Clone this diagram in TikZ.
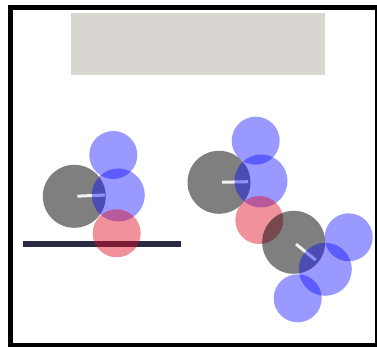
\documentclass[tikz,border=0pt]{standalone}
\usetikzlibrary{positioning}

\definecolor{panelgray}{RGB}{217,214,209}
\definecolor{groundnavy}{RGB}{42,42,68}
\definecolor{contactred}{RGB}{222,12,34}

\begin{document}
\begin{tikzpicture}[
  x=1pt, y=-1pt,
  body/.style={circle, fill=black, fill opacity=0.5, minimum size=63pt, inner sep=0pt},
  wheel/.style={circle, fill=blue, fill opacity=0.4, minimum size=48pt, inner sep=0pt},
  bigwheel/.style={wheel, minimum size=53pt},
  contact/.style={circle, fill=contactred, fill opacity=0.45, minimum size=48pt, inner sep=0pt},
  heading/.style={white, line width=3pt, opacity=0.9, shorten <=3pt}
]
  \useasboundingbox (0,0) rectangle (377,347);

  % Frame and panel
  \draw[line width=5pt] (10.5,7.5) rectangle (377.5,345.5);
  \fill[panelgray] (71,13) rectangle (325,75);

  % Ground
  \fill[groundnavy] (23,241) rectangle (181,247);

  % Left robot
  \node[body] (b1) at (74.3,196.3) {};
  \coordinate (h1) at (105,195);
  \draw[heading] (b1.center) -- (h1);
  \node[wheel] (w1a) at (113.3,155) {};
  \node[bigwheel] (w1b) at (118.3,195) {};
  \node[contact] (c1) at (116.7,233.3) {};

  % Right robot, upper part
  \node[body] (b2) at (219,182.3) {};
  \coordinate (h2) at (248,181.7);
  \draw[heading] (b2.center) -- (h2);
  \node[wheel] (w2a) at (255.7,140.7) {};
  \node[bigwheel] (w2b) at (261,181) {};
  \node[contact] (c2) at (259.3,220) {};

  % Right robot, lower part
  \node[body] (b3) at (293.7,242.3) {};
  \coordinate (h3) at (315.7,260);
  \draw[heading] (b3.center) -- (h3);
  \node[wheel] (w3a) at (348.7,237.3) {};
  \node[bigwheel] (w3b) at (325.3,269.3) {};
  \node[wheel] (w3c) at (297.7,298.3) {};
\end{tikzpicture}
\end{document}
